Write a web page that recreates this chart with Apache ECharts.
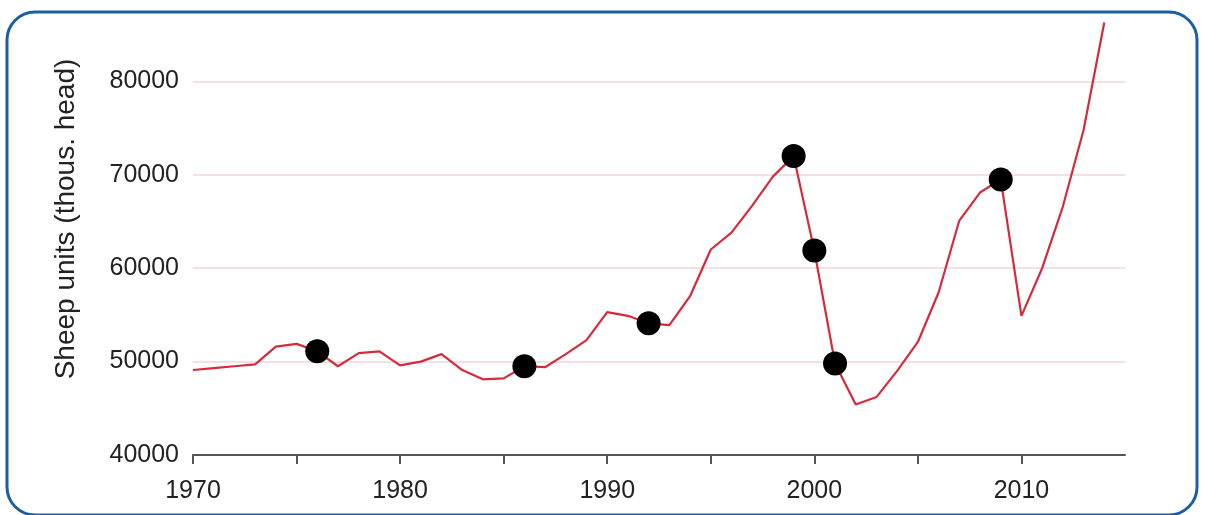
<!DOCTYPE html>
<html>
<head>
<meta charset="utf-8">
<script src="https://cdn.jsdelivr.net/npm/echarts@6/dist/echarts.min.js"></script>
<style>
html, body { margin: 0; padding: 0; background: #fff; }
#main { width: 1206px; height: 515px; }
</style>
</head>
<body>
<div id="main"></div>
<script>
// sheep units by year, thous. head
var years = [1970, 1971, 1972, 1973, 1974, 1975, 1976, 1977, 1978, 1979,
             1980, 1981, 1982, 1983, 1984, 1985, 1986, 1987, 1988, 1989,
             1990, 1991, 1992, 1993, 1994, 1995, 1996, 1997, 1998, 1999,
             2000, 2001, 2002, 2003, 2004, 2005, 2006, 2007, 2008, 2009,
             2010, 2011, 2012, 2013, 2014];
var sheep = [49100, 49300, 49500, 49700, 51600, 51900, 51100, 49500, 50900, 51100,
             49600, 50000, 50800, 49100, 48100, 48200, 49500, 49400, 50800, 52300,
             55300, 54900, 54100, 53900, 57000, 62000, 63800, 66700, 69800, 72000,
             61900, 49800, 45400, 46200, 49000, 52100, 57400, 65100, 68100, 69500,
             54900, 60000, 66600, 74800, 86300];
// years marked with a black dot
var markedYears = [1976, 1986, 1992, 1999, 2000, 2001, 2009];

var lineData = years.map(function (y, i) { return [y, sheep[i]]; });
var dotData = markedYears.map(function (y) { return [y, sheep[years.indexOf(y)]]; });

var chart = echarts.init(document.getElementById('main'));
chart.setOption({
    animation: false,
    backgroundColor: '#fff',
    graphic: [{
        type: 'rect',
        shape: { x: 7, y: 12, width: 1190, height: 503, r: 28 },
        style: { fill: 'none', stroke: '#1b5ea2', lineWidth: 3 },
        z: -1
    }],
    grid: { left: 193, right: 81, top: 16, bottom: 60 },
    xAxis: {
        type: 'value',
        min: 1970,
        max: 2015,
        interval: 5,
        axisLine: { lineStyle: { color: '#555', width: 2 } },
        axisTick: { show: true, inside: false, length: 9, lineStyle: { color: '#555', width: 2 } },
        axisLabel: {
            fontFamily: 'Liberation Sans',
            fontSize: 25,
            color: '#222',
            margin: 24,
            showMaxLabel: false,
            formatter: function (v) { return v % 10 === 0 ? String(v) : ''; }
        },
        splitLine: { show: false }
    },
    yAxis: {
        type: 'value',
        min: 40000,
        max: 87000,
        interval: 10000,
        name: 'Sheep units (thous. head)',
        nameLocation: 'middle',
        nameGap: 113,
        nameTextStyle: {
            fontFamily: 'Liberation Sans',
            fontSize: 28,
            color: '#222',
            padding: [0, 0, 0, 33]
        },
        axisLine: { show: false },
        axisTick: { show: false },
        axisLabel: {
            fontFamily: 'Liberation Sans',
            fontSize: 25,
            color: '#222',
            margin: 14,
            showMaxLabel: false,
            formatter: function (v) { return String(v); }
        },
        splitLine: { show: true, showMaxLine: false, lineStyle: { color: '#f6dfe0', width: 2 } }
    },
    series: [{
        type: 'line',
        data: lineData,
        symbol: 'none',
        lineStyle: { color: '#d62b3d', width: 2.2 },
        z: 2
    }, {
        type: 'scatter',
        data: dotData,
        symbolSize: 24,
        itemStyle: { color: '#000', opacity: 1 },
        z: 3
    }]
});
</script>
</body>
</html>
